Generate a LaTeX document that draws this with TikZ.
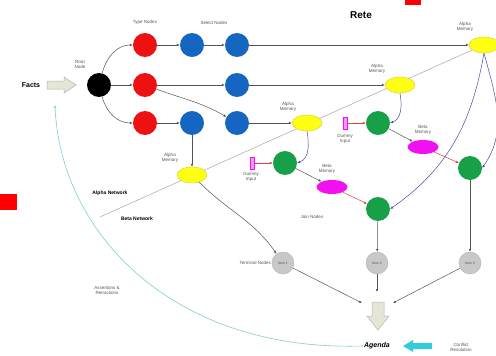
\documentclass[tikz,border=0pt]{standalone}
\usepackage{fontspec}
\setmainfont{Liberation Sans}
\usetikzlibrary{shapes.geometric,arrows.meta}
\definecolor{tred}{HTML}{EE1111}
\definecolor{sblue}{HTML}{1566C0}
\definecolor{jgreen}{HTML}{18A048}
\definecolor{amyel}{HTML}{FFFF11}
\definecolor{bmag}{HTML}{F010F0}
\definecolor{itemg}{HTML}{C8C8C8}
\definecolor{lblg}{HTML}{555555}
\definecolor{bline}{HTML}{4A4AA0}
\definecolor{rline}{HTML}{E04040}
\definecolor{cyanl}{HTML}{7FCFCF}
\definecolor{cyanarr}{HTML}{33CCDD}
\definecolor{beige}{HTML}{E6E6D6}
\tikzset{
  rnode/.style={circle,inner sep=0pt,minimum size=24pt},
  typenode/.style={rnode,fill=tred},
  selnode/.style={rnode,fill=sblue},
  joinnode/.style={rnode,fill=jgreen},
  rootnode/.style={rnode,fill=black},
  itemnode/.style={circle,inner sep=0pt,minimum size=22pt,fill=itemg,draw=gray!60,font=\fontsize{3.5}{4}\selectfont,text=lblg},
  amem/.style={ellipse,inner sep=0pt,minimum width=30pt,minimum height=16pt,fill=amyel,draw=yellow!75!black,line width=0.3pt},
  bmem/.style={ellipse,inner sep=0pt,minimum width=31pt,minimum height=14pt,fill=bmag},
  lbl/.style={font=\fontsize{4.5}{5}\selectfont,text=lblg,align=center,inner sep=0pt},
  blbl/.style={font=\bfseries\fontsize{5}{6}\selectfont,inner sep=0pt},
  conn/.style={draw=gray!65!black,line width=0.5pt,-{Latex[length=3pt,width=2.5pt]}},
  bconn/.style={draw=bline,line width=0.5pt,-{Latex[length=3pt,width=2.5pt]}},
  rconn/.style={draw=rline,line width=0.5pt,-{Latex[length=3pt,width=2.5pt]}},
  dummy/.style={rectangle,inner sep=0pt,minimum width=4pt,minimum height=12pt,fill=bmag!45,draw=bmag,line width=0.4pt},
  hollowarrow/.style={draw=gray!60,fill=beige,line width=0.5pt,line join=miter},
}
\begin{document}
\begin{tikzpicture}[x=1pt,y=-1pt]
\useasboundingbox (0,0) rectangle (496,356);
\fill[white] (0,0) rectangle (496,356);
% red marks
\fill[red] (405,0) rectangle (421,5);
\fill[red] (0,194) rectangle (17,210);
% title
\node[font=\bfseries\fontsize{10}{12}\selectfont] (title) at (361,15) {Rete};
% separator line
\coordinate (sepL) at (100,217);
\coordinate (sepR) at (490,42);
\draw[gray!70,line width=0.5pt] (sepL) -- (sepR);
% root and facts
\node[rootnode] (root) at (99,85) {};
\node[lbl] (rootl) at (80,64) {Root\\Node};
\draw[hollowarrow] (47,81) -- (64,81) -- (64,77) -- (76,85) -- (64,93) -- (64,89) -- (47,89) -- cycle;
\node[font=\bfseries\fontsize{7}{8}\selectfont,inner sep=0pt] (facts) at (31,85) {Facts};
% type nodes
\node[typenode] (t1) at (145,45) {};
\node[typenode] (t2) at (145,85) {};
\node[typenode] (t3) at (145,123) {};
\node[lbl] (tl) at (145,22) {Type Nodes};
% select nodes
\node[selnode] (s1a) at (192,45) {};
\node[selnode] (s1b) at (237,45) {};
\node[selnode] (s2) at (237,85) {};
\node[selnode] (s3a) at (192,123) {};
\node[selnode] (s3b) at (237,123) {};
\node[lbl] (sl) at (214,23) {Select Nodes};
% alpha memories
\node[amem] (am1) at (484,45) {};
\node[amem] (am2) at (400,85) {};
\node[amem] (am3) at (307,123) {};
\node[amem] (am4) at (192,175) {};
\node[lbl] (am1l) at (465,27) {Alpha\\Memory};
\node[lbl] (am2l) at (377,69) {Alpha\\Memory};
\node[lbl] (am3l) at (288,107) {Alpha\\Memory};
\node[lbl] (am4l) at (170,158) {Alpha\\Memory};
% network labels
\node[blbl] (anet) at (110,193) {Alpha Network};
\node[blbl] (bnet) at (137,219) {Beta Network};
% join nodes
\node[joinnode] (g1) at (285,163) {};
\node[joinnode] (g2) at (378,123) {};
\node[joinnode] (g3) at (470,168) {};
\node[joinnode] (g4) at (378,209) {};
\node[lbl] (jl) at (312,217) {Join Nodes};
% dummy inputs
\node[dummy] (d1) at (252,163) {};
\node[dummy] (d2) at (345,123) {};
\node[lbl] (d1l) at (251,177) {Dummy\\Input};
\node[lbl] (d2l) at (345,139) {Dummy\\Input};
% beta memories
\node[bmem] (bm1) at (332,187) {};
\node[bmem] (bm2) at (423,147) {};
\node[lbl] (bm1l) at (327,169) {Beta\\Memory};
\node[lbl] (bm2l) at (423,130) {Beta\\Memory};
% terminal nodes
\node[itemnode] (i1) at (283,263) {Item 1};
\node[itemnode] (i2) at (377,263) {Item 2};
\node[itemnode] (i3) at (470,263) {Item 3};
\node[lbl,anchor=east] (tnl) at (271,263) {Terminal Nodes};
% agenda
\draw[hollowarrow] (372,302) -- (384,302) -- (384,316) -- (389,316) -- (378,330) -- (367,316) -- (372,316) -- cycle;
\node[font=\bfseries\itshape\fontsize{7}{8}\selectfont,inner sep=1pt] (agenda) at (377,346) {Agenda};
\fill[cyanarr] (432,343) -- (413,343) -- (413,340) -- (403,346) -- (413,352) -- (413,349) -- (432,349) -- cycle;
\node[lbl] (crl) at (461,347) {Conflict\\Resolution};
\node[lbl] (arl) at (107,290) {Assertions \&\\Retractions};
% connectors alpha network
\draw[conn] (root) to[out=75,in=180] (t1);
\draw[conn] (root) -- (t2);
\draw[conn] (root) to[out=-75,in=180] (t3);
\draw[conn] (t1) -- (s1a);
\draw[conn] (s1a) -- (s1b);
\draw[conn] (s1b) -- (am1);
\draw[conn] (t2) -- (s2);
\draw[conn] (s2) -- (am2);
\draw[conn] (t2) to[out=-20,in=150] (s3b);
\draw[conn] (t3) -- (s3a);
\draw[conn] (s3a) -- (am4);
\draw[conn] (s3b) -- (am3);
% beta network
\draw[bconn] (am3.south) to[out=-80,in=20] (g1.east);
\draw[bconn] (am2.south) to[out=-80,in=20] (g2.east);
\draw[bconn] (am1.south) to[out=-75,in=55] (g3.east);
\draw[bconn] (am1.south) to[out=-100,in=35] (g4.east);
\draw[rconn] (d1) -- (g1);
\draw[rconn] (d2) -- (g2);
\draw[conn] (g1) -- (bm1);
\draw[conn] (g2) -- (bm2);
\draw[rconn] (bm1) -- (g4);
\draw[rconn] (bm2) -- (g3);
\draw[conn] (am4) to[out=-45,in=125] (i1);
\draw[conn] (g4) -- (i2);
\draw[conn] (g3) -- (i3);
\coordinate (ag1) at (362,303);
\coordinate (ag2) at (377,292);
\coordinate (ag3) at (393,303);
\draw[conn] (i1) -- (ag1);
\draw[conn] (i2) -- (ag2);
\draw[conn] (i3) -- (ag3);
% feedback curve
\coordinate (fb) at (55,105);
\draw[draw=cyanl,line width=0.6pt,-{Latex[length=3pt,width=2.5pt]}] (agenda.west) .. controls (170,352) and (60,230) .. (fb);
\end{tikzpicture}
\end{document}
